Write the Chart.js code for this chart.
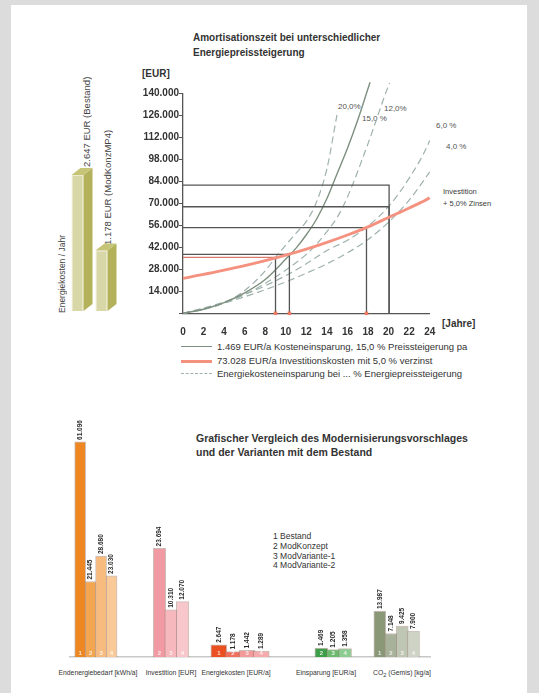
<!DOCTYPE html>
<html>
<head>
<meta charset="utf-8">
<script src="https://cdn.jsdelivr.net/npm/chart.js@4.4.0/dist/chart.umd.min.js"></script>
<style>
  body { margin: 0; background: #dcdcdc; font-family: "Liberation Sans", Arial, sans-serif; }
  #page { position: absolute; left: 11px; top: 5px; width: 516px; height: 688px; background: #fff; }
  .t { position: absolute; white-space: nowrap; color: #333; }
  .vert { writing-mode: vertical-rl; transform: rotate(180deg); }
  canvas { position: absolute; }
  .sample { position: absolute; left: 181px; width: 31px; height: 0; }
</style>
</head>
<body>
<div id="page"></div>

<!-- top chart texts -->
<div class="t" style="left:193px;top:31px;font-size:10px;font-weight:bold;line-height:14.5px;">Amortisationszeit bei unterschiedlicher<br>Energiepreissteigerung</div>
<div class="t" style="left:142px;top:68px;font-size:10px;font-weight:bold;">[EUR]</div>
<div class="t" style="left:442px;top:318px;font-size:10px;font-weight:bold;">[Jahre]</div>
<div class="t" style="left:338px;top:102px;font-size:8px;color:#555;">20,0%</div>
<div class="t" style="left:362px;top:114px;font-size:8px;color:#555;">15,0 %</div>
<div class="t" style="left:384px;top:104px;font-size:8px;color:#555;">12,0%</div>
<div class="t" style="left:436px;top:121px;font-size:8px;color:#555;">6,0 %</div>
<div class="t" style="left:446px;top:142px;font-size:8px;color:#555;">4,0 %</div>
<div class="t" style="left:443px;top:186px;font-size:7.5px;line-height:12px;color:#3a3a3a;">Investition<br>+ 5,0% Zinsen</div>

<div class="sample" style="top:346px;border-top:1.5px solid #7d8f7e;"></div>
<div class="sample" style="top:359.5px;border-top:3px solid #f4917f;"></div>
<div class="sample" style="top:373px;border-top:1.5px dashed #9fb2ad;"></div>
<div class="t" style="left:217px;top:340px;font-size:9.5px;line-height:13.5px;">1.469 EUR/a Kosteneinsparung, 15,0 % Preissteigerung pa<br>73.028 EUR/a Investitionskosten mit 5,0 % verzinst<br>Energiekosteneinsparung bei ... % Energiepreissteigerung</div>

<!-- left 3d bars texts -->
<div class="t vert" style="left:57px;top:237px;height:76px;font-size:8.5px;color:#444;">Energiekosten / Jahr</div>
<div class="t vert" style="left:81px;top:70px;height:97px;font-size:9.5px;color:#444;">2.647 EUR (Bestand)</div>
<div class="t vert" style="left:102px;top:120px;height:125px;font-size:9.5px;color:#444;">1.178 EUR (ModKonzMP4)</div>

<!-- bottom chart texts -->
<div class="t" style="left:196px;top:431px;font-size:10.5px;font-weight:bold;line-height:14px;">Grafischer Vergleich des Modernisierungsvorschlages<br>und der Varianten mit dem Bestand</div>
<div class="t" id="variantLegend" style="left:273px;top:532px;font-size:8.5px;line-height:9.8px;"></div>
<div id="groupLabels"></div>

<canvas id="amort" width="400" height="280" style="left:120px;top:60px;"></canvas>
<canvas id="cost3d" width="80" height="170" style="left:55px;top:150px;"></canvas>
<canvas id="compare" width="400" height="255" style="left:55px;top:415px;"></canvas>

<script>
const FONT = '"Liberation Sans", Arial, sans-serif';

// ---- amortisation chart data ----
const solidYears = [0, 2, 4, 6, 8, 10, 11, 12, 13, 14, 15, 16, 17, 18, 18.2];
const solid15 = [0, 2600, 6800, 13000, 21500, 34500, 41500, 50000, 60000, 73000, 89000, 105000, 123000, 143000, 147000];

const d20Years = [0, 2, 4, 6, 8, 9, 10, 11, 12, 13, 14, 15];
const dashed20 = [0, 2400, 6600, 14500, 27000, 35600, 43500, 51000, 58500, 71000, 92000, 127000];

const d12Years = [0, 2, 4, 6, 8, 10, 12, 13, 14, 15, 16, 18, 20, 20.1];
const dashed12 = [0, 2800, 6600, 12000, 19000, 27500, 37500, 44000, 52000, 61000, 74000, 108000, 145000, 146500];

const d6Years = [0, 2, 4, 6, 8, 10, 12, 14, 16, 18, 20, 22, 24, 25];
const dashed6 = [0, 3300, 7200, 12000, 17500, 24000, 31500, 40000, 46500, 55500, 68000, 86000, 110000, 130000];

const d4Years = [0, 2, 4, 6, 8, 10, 12, 14, 16, 18, 20, 22, 24, 25.5];
const dashed4 = [0, 3000, 6500, 10500, 15000, 20000, 25500, 31500, 38500, 47000, 58000, 72000, 90000, 105000];

const investYears = [0, 2, 4, 6, 8, 10, 12, 14, 16, 18, 20, 22, 24, 25];
const invest5 = [22300, 24700, 27400, 30300, 33500, 37000, 40800, 45100, 49800, 55000, 61000, 67000, 73500, 78500];

const paybackYears = [9.0, 10.35, 17.85, 20.05, 20.05];
const paybackLevels = [35600, 37500, 54500, 67800, 81600];
const markerYears = [9.0, 10.35, 17.85];

const yTicks = [14000, 28000, 42000, 56000, 70000, 84000, 98000, 112000, 126000, 140000];

// ---- left 3d bars ----
const costLabels = ['Bestand', 'ModKonzMP4'];
const costPerYear = [2647, 1178];

// ---- comparison chart ----
const variants = ['Bestand', 'ModKonzept', 'ModVariante-1', 'ModVariante-2'];
const groupNames = ['Endenergiebedarf [kWh/a]', 'Investition [EUR]', 'Energiekosten [EUR/a]', 'Einsparung [EUR/a]', 'CO<sub>2</sub> (Gemis) [kg/a]'];
const endenergie = [61096, 21445, 28680, 23030];
const investition = [null, 23694, 10310, 12070];
const energiekosten = [2647, 1178, 1442, 1289];
const einsparung = [null, 1469, 1205, 1358];
const co2 = [13987, 7148, 9425, 7900];

function de(n) {
    return String(Math.round(n)).replace(/\B(?=(\d{3})+(?!\d))/g, '.');
}
function pts(xs, ys) {
    return xs.map((x, i) => ({ x: x, y: ys[i] }));
}

// legends as html text
document.getElementById('variantLegend').innerHTML =
    variants.map((v, i) => (i + 1) + ' ' + v).join('<br>');
const labelCenters = [98, 171, 236, 326, 402];
document.getElementById('groupLabels').innerHTML = groupNames.map((g, i) =>
    `<div class="t" style="left:${labelCenters[i]}px;top:669px;transform:translateX(-50%);font-size:6.8px;">${g}</div>`
).join('');

// ---------- top chart ----------
const refDatasets = paybackYears.map((yr, i) => ({
    data: [{ x: 0, y: paybackLevels[i] }, { x: yr, y: paybackLevels[i] }, { x: yr, y: 0 }],
    borderColor: '#555',
    borderWidth: 1.3,
    segment: {
        borderColor: c => (i === 0 && c.p0DataIndex === 0) ? '#d77a6c' : '#555'
    },
    tension: 0,
    order: 1
}));

const dashStyle = { borderColor: '#9fb2ad', borderWidth: 1.2, borderDash: [7, 4], order: 3, cubicInterpolationMode: 'monotone' };

new Chart(document.getElementById('amort'), {
    type: 'line',
    data: {
        datasets: [
            { data: pts(investYears, invest5), borderColor: '#f4917f', borderWidth: 2.8, cubicInterpolationMode: 'monotone', order: 0 },
            { data: pts(solidYears, solid15), borderColor: '#7d8f7e', borderWidth: 1.4, cubicInterpolationMode: 'monotone', order: 2 },
            Object.assign({ data: pts(d20Years, dashed20) }, dashStyle),
            Object.assign({ data: pts(d12Years, dashed12) }, dashStyle),
            Object.assign({ data: pts(d6Years, dashed6) }, dashStyle),
            Object.assign({ data: pts(d4Years, dashed4) }, dashStyle),
            ...refDatasets,
            {
                type: 'scatter',
                data: markerYears.map(yr => ({ x: yr, y: 0 })),
                pointStyle: 'rect', pointRadius: 2.5,
                backgroundColor: '#f07a60', borderWidth: 0, order: -1
            }
        ]
    },
    options: {
        responsive: false,
        animation: false,
        layout: { padding: { left: 0, top: 33.3, right: 90.3, bottom: 0 } },
        plugins: { legend: { display: false }, tooltip: { enabled: false } },
        elements: { point: { radius: 0 }, line: { fill: false } },
        datasets: { line: { clip: false }, scatter: { clip: false } },
        scales: {
            x: {
                type: 'linear', min: 0, max: 24,
                afterFit: s => { s.height = 26.7; },
                ticks: { stepSize: 2, color: '#333', padding: 5, font: { size: 10, weight: 'bold', family: FONT } },
                grid: { display: false },
                border: { color: '#555', width: 1.3 }
            },
            y: {
                type: 'linear', min: 0, max: 140000,
                afterFit: s => { s.width = 63; },
                afterBuildTicks: s => { s.ticks = [0].concat(yTicks).map(v => ({ value: v })); },
                ticks: {
                    color: '#333', padding: 0,
                    font: { size: 10, weight: 'bold', family: FONT },
                    callback: v => v === 0 ? '' : de(v)
                },
                grid: { drawOnChartArea: false, drawTicks: true, tickLength: 4, color: '#555' },
                border: { color: '#555', width: 1.3 }
            }
        }
    }
});

// ---------- left 3d bars ----------
const bar3d = {
    id: 'bar3d',
    afterDatasetsDraw(chart) {
        const ctx = chart.ctx;
        const dx = 9, dy = 7;
        chart.getDatasetMeta(0).data.forEach(b => {
            const l = b.x - b.width / 2, r = b.x + b.width / 2;
            ctx.save();
            ctx.fillStyle = '#b3b15a';
            ctx.beginPath();
            ctx.moveTo(r, b.y); ctx.lineTo(r + dx, b.y - dy);
            ctx.lineTo(r + dx, b.base - dy); ctx.lineTo(r, b.base);
            ctx.closePath(); ctx.fill();
            ctx.fillStyle = '#c6c476';
            ctx.beginPath();
            ctx.moveTo(l, b.y); ctx.lineTo(l + dx, b.y - dy);
            ctx.lineTo(r + dx, b.y - dy); ctx.lineTo(r, b.y);
            ctx.closePath(); ctx.fill();
            ctx.restore();
        });
    }
};

new Chart(document.getElementById('cost3d'), {
    type: 'bar',
    data: {
        labels: costLabels,
        datasets: [{
            data: costPerYear,
            backgroundColor: '#d8d7a7',
            borderColor: '#ecebcb',
            borderWidth: 1,
            categoryPercentage: 1,
            barPercentage: 0.5
        }]
    },
    options: {
        responsive: false,
        animation: false,
        layout: { padding: { left: 10.5, right: 21.5, top: 7, bottom: 9 } },
        plugins: { legend: { display: false }, tooltip: { enabled: false } },
        scales: {
            x: { display: false },
            y: { display: false, min: 0, max: 3000 }
        }
    },
    plugins: [bar3d]
});

// ---------- comparison chart ----------
const barLabels = {
    id: 'barLabels',
    afterDatasetsDraw(chart) {
        const ctx = chart.ctx;
        chart.data.datasets.forEach((ds, di) => {
            chart.getDatasetMeta(di).data.forEach((bar, i) => {
                const p = ds.data[i];
                ctx.save();
                ctx.translate(bar.x, bar.y - 2);
                ctx.rotate(-Math.PI / 2);
                ctx.font = 'bold 6.5px ' + FONT;
                ctx.fillStyle = '#2a2a2a';
                ctx.textAlign = 'left';
                ctx.textBaseline = 'middle';
                ctx.fillText(de(p.y), 0, 0);
                ctx.restore();
                ctx.save();
                ctx.font = 'bold 6px ' + FONT;
                ctx.fillStyle = 'rgba(255,255,255,0.8)';
                ctx.textAlign = 'center';
                ctx.textBaseline = 'bottom';
                ctx.fillText(String(p.x), bar.x, bar.base - 1);
                ctx.restore();
            });
        });
    }
};

function groupData(vals) {
    return vals.map((v, i) => ({ x: i + 1, y: v })).filter(p => p.y !== null);
}
function groupSet(vals, colors, axis, thickness) {
    const data = groupData(vals);
    return {
        data: data,
        backgroundColor: data.map(p => colors[p.x - 1]),
        borderColor: 'rgba(140,110,100,0.45)',
        borderWidth: 1,
        borderSkipped: 'bottom',
        barThickness: thickness,
        xAxisID: 'x' + axis,
        yAxisID: 'y' + axis
    };
}
const hiddenX = (min, max) => ({ type: 'linear', display: false, min: min, max: max });
const hiddenY = max => ({ type: 'linear', display: false, min: 0, max: max });

new Chart(document.getElementById('compare'), {
    type: 'bar',
    data: {
        datasets: [
            groupSet(endenergie, ['#ee8622', '#f3a550', '#f7bb7e', '#f9ca98'], 0, 11),
            groupSet(investition, ['#f29aa4', '#f29aa4', '#f6b8bd', '#f8c7cb'], 1, 12.5),
            groupSet(energiekosten, ['#ea5020', '#f06e5c', '#f39b9b', '#f5abab'], 2, 16),
            groupSet(einsparung, ['#3f9e48', '#3f9e48', '#6cba6e', '#8dcc90'], 3, 13),
            groupSet(co2, ['#8a9878', '#a8b29a', '#bfc6b3', '#ced4c5'], 4, 12)
        ]
    },
    options: {
        responsive: false,
        animation: false,
        layout: { padding: { left: 15, right: 25, top: 22, bottom: 0 } },
        plugins: { legend: { display: false }, tooltip: { enabled: false } },
        scales: {
            x0: {
                type: 'linear', min: 0.385, max: 29.89, position: 'bottom',
                afterFit: s => { s.height = 13; },
                ticks: { display: false },
                grid: { display: false },
                border: { color: '#c8c8c8', width: 1.5 }
            },
            x1: hiddenX(-3.729, 21.271),
            x2: hiddenX(-6.98, 13.39),
            x3: hiddenX(-15.54, 9.72),
            x4: hiddenX(-21.74, 4.93),
            y0: hiddenY(62500),
            y1: hiddenY(48000),
            y2: hiddenY(48000),
            y3: hiddenY(36000),
            y4: hiddenY(67000)
        }
    },
    plugins: [barLabels]
});
</script>
</body>
</html>
